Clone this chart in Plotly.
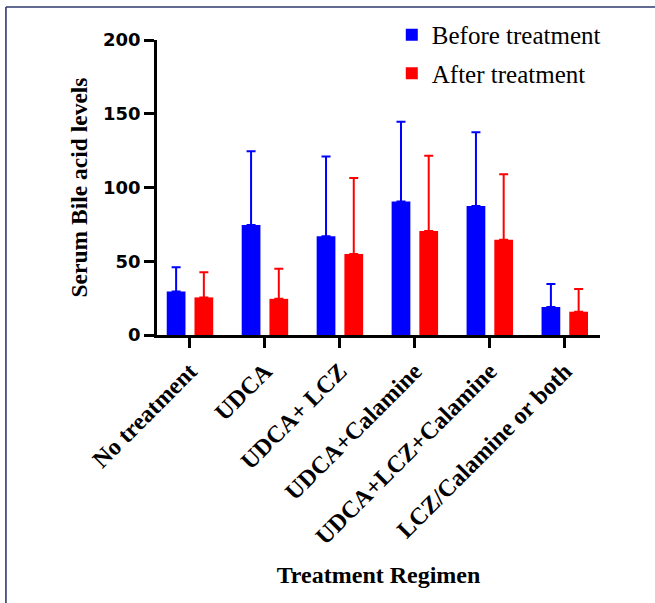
import plotly.graph_objects as go

categories = ["No treatment", "UDCA", "UDCA+ LCZ", "UDCA+Calamine",
              "UDCA+LCZ+Calamine", "LCZ/Calamine or both"]
before_mean = [29.5, 74.5, 67, 90.5, 87.5, 19]
before_err = [16.5, 50, 54, 54, 50, 15.5]
after_mean = [25.5, 24.5, 55, 70.5, 64.5, 15.8]
after_err = [17, 20.5, 51.5, 51, 44.5, 15.4]
y_ticks = [0, 50, 100, 150, 200]

BLUE = "#0000FF"
RED = "#FF0000"
SERIF = "Liberation Serif, Times New Roman, serif"

fig = go.Figure()
fig.add_trace(go.Bar(
    name="Before treatment", x=categories, y=before_mean,
    marker=dict(color=BLUE, line=dict(width=0)),
    width=0.25, offset=-0.31,
    error_y=dict(type="data", array=before_err, arrayminus=[0] * len(before_err),
                 symmetric=False, color=BLUE, thickness=2, width=4.5),
    legendgroup="a",
))
fig.add_trace(go.Bar(
    name="After treatment", x=categories, y=after_mean,
    marker=dict(color=RED, line=dict(width=0)),
    width=0.25, offset=0.06,
    error_y=dict(type="data", array=after_err, arrayminus=[0] * len(after_err),
                 symmetric=False, color=RED, thickness=2, width=4.5),
    legendgroup="b",
))

fig.update_layout(
    width=655, height=603,
    margin=dict(l=157, r=55, t=40, b=268, autoexpand=False),
    paper_bgcolor="white", plot_bgcolor="white",
    barmode="group",
    showlegend=True,
    legend=dict(x=0.53, y=1.095, xanchor="left", yanchor="top",
                font=dict(family=SERIF, size=25, color="black"),
                bgcolor="rgba(0,0,0,0)", tracegroupgap=3,
                itemwidth=30),
    xaxis=dict(
        type="category", range=[-0.44, 5.47],
        showline=True, linecolor="black", linewidth=2.5,
        ticks="outside", ticklen=10, tickwidth=2.5, tickcolor="black",
        tickangle=-45,
        tickfont=dict(family=SERIF, size=24, color="black", weight="bold"),
        showgrid=False, zeroline=False, automargin=False,
        title=dict(text="<b>Treatment Regimen</b>",
                   font=dict(family=SERIF, size=24, color="black"),
                   standoff=18),
    ),
    yaxis=dict(
        range=[0, 200], tickvals=y_ticks,
        showline=True, linecolor="black", linewidth=2.5,
        ticks="outside", ticklen=10, tickwidth=2.5, tickcolor="black",
        tickfont=dict(family="DejaVu Sans, Arial, sans-serif", size=18,
                      color="black", weight="bold"),
        showgrid=False, zeroline=False, automargin=False,
        title=dict(text="<b>Serum Bile acid levels</b>",
                   font=dict(family=SERIF, size=23.5, color="black"),
                   standoff=9),
    ),
    shapes=[
        dict(type="line", xref="paper", yref="paper",
             x0=-0.341, x1=2.0, y0=1.112, y1=1.112,
             line=dict(color="#2E3A6E", width=1.6)),
        dict(type="line", xref="paper", yref="paper",
             x0=-0.341, x1=-0.341, y0=1.112, y1=-1.2,
             line=dict(color="#2E3A6E", width=1.6)),
    ],
)

fig.write_html("out.html",
               config={"displayModeBar": False},
               post_script="document.body.style.margin='0';document.body.style.overflow='hidden';")
